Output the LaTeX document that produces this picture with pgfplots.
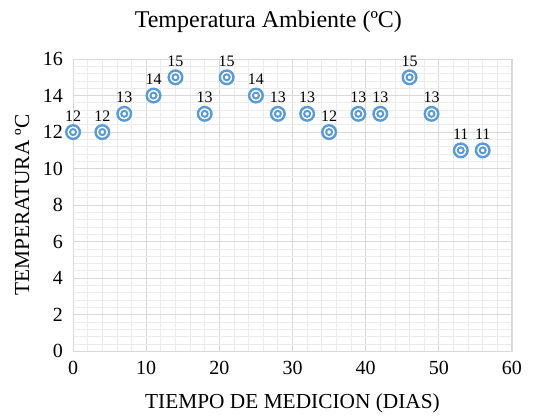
\documentclass[border=0pt]{standalone}
\usepackage{pgfplots}
\pgfplotsset{compat=1.18}
\usepackage{fontspec}
\setmainfont{Liberation Serif}
\definecolor{mk}{HTML}{5B9BD5}
\definecolor{gmaj}{HTML}{D9D9D9}
\definecolor{gmin}{HTML}{EBEBEB}
\begin{document}
\begin{tikzpicture}
\begin{axis}[
  name=ax,
  scale only axis, width=329pt, height=219pt,
  xmin=0, xmax=60, ymin=0, ymax=16,
  xtick={0,10,...,60}, ytick={0,2,...,16},
  minor x tick num=4, minor y tick num=4,
  grid=both,
  major grid style={gmaj, line width=0.8pt},
  minor grid style={gmin, line width=0.6pt},
  axis line style={gmaj, line width=0.8pt},
  tick style={draw=none},
  /pgf/number format/assume math mode=true,
  ticklabel style={font=\fontsize{15}{18}\selectfont},
  xticklabel style={yshift=-4pt},
  yticklabel style={xshift=-4pt},
  title={Temperatura Ambiente (ºC)},
  title style={font=\fontsize{18}{21}\selectfont, at={(axis description cs:0.445,1.10)}, anchor=center},
  xlabel={TIEMPO DE MEDICION (DIAS)},
  ylabel={TEMPERATURA ºC},
  label style={font=\fontsize{16}{18}\selectfont},
  xlabel style={at={(axis description cs:0.5,-0.18)}, anchor=center},
  ylabel style={at={(axis description cs:-0.116,0.5)}, anchor=center},
  clip=false,
]
\addplot[only marks, mark=*, mark size=5.1pt, mark options={draw=mk, fill=white, line width=1.8pt},
  nodes near coords, nodes near coords style={font=\fontsize{12}{14}\selectfont, anchor=south, yshift=4pt, text=black}]
coordinates {(0,12)(4,12)(7,13)(11,14)(14,15)(18,13)(21,15)(25,14)(28,13)(32,13)(35,12)(39,13)(42,13)(46,15)(49,13)(53,11)(56,11)};
\addplot[only marks, mark=o, mark size=2.25pt, mark options={draw=mk, line width=1.5pt}]
coordinates {(0,12)(4,12)(7,13)(11,14)(14,15)(18,13)(21,15)(25,14)(28,13)(32,13)(35,12)(39,13)(42,13)(46,15)(49,13)(53,11)(56,11)};
\end{axis}
\path (ax.south west) ++(-54.75pt,-48pt) coordinate (bbA);
\path (ax.north east) ++(28.5pt,44.25pt) coordinate (bbB);
\pgfresetboundingbox
\path[use as bounding box] (bbA) rectangle (bbB);
\end{tikzpicture}
\end{document}
